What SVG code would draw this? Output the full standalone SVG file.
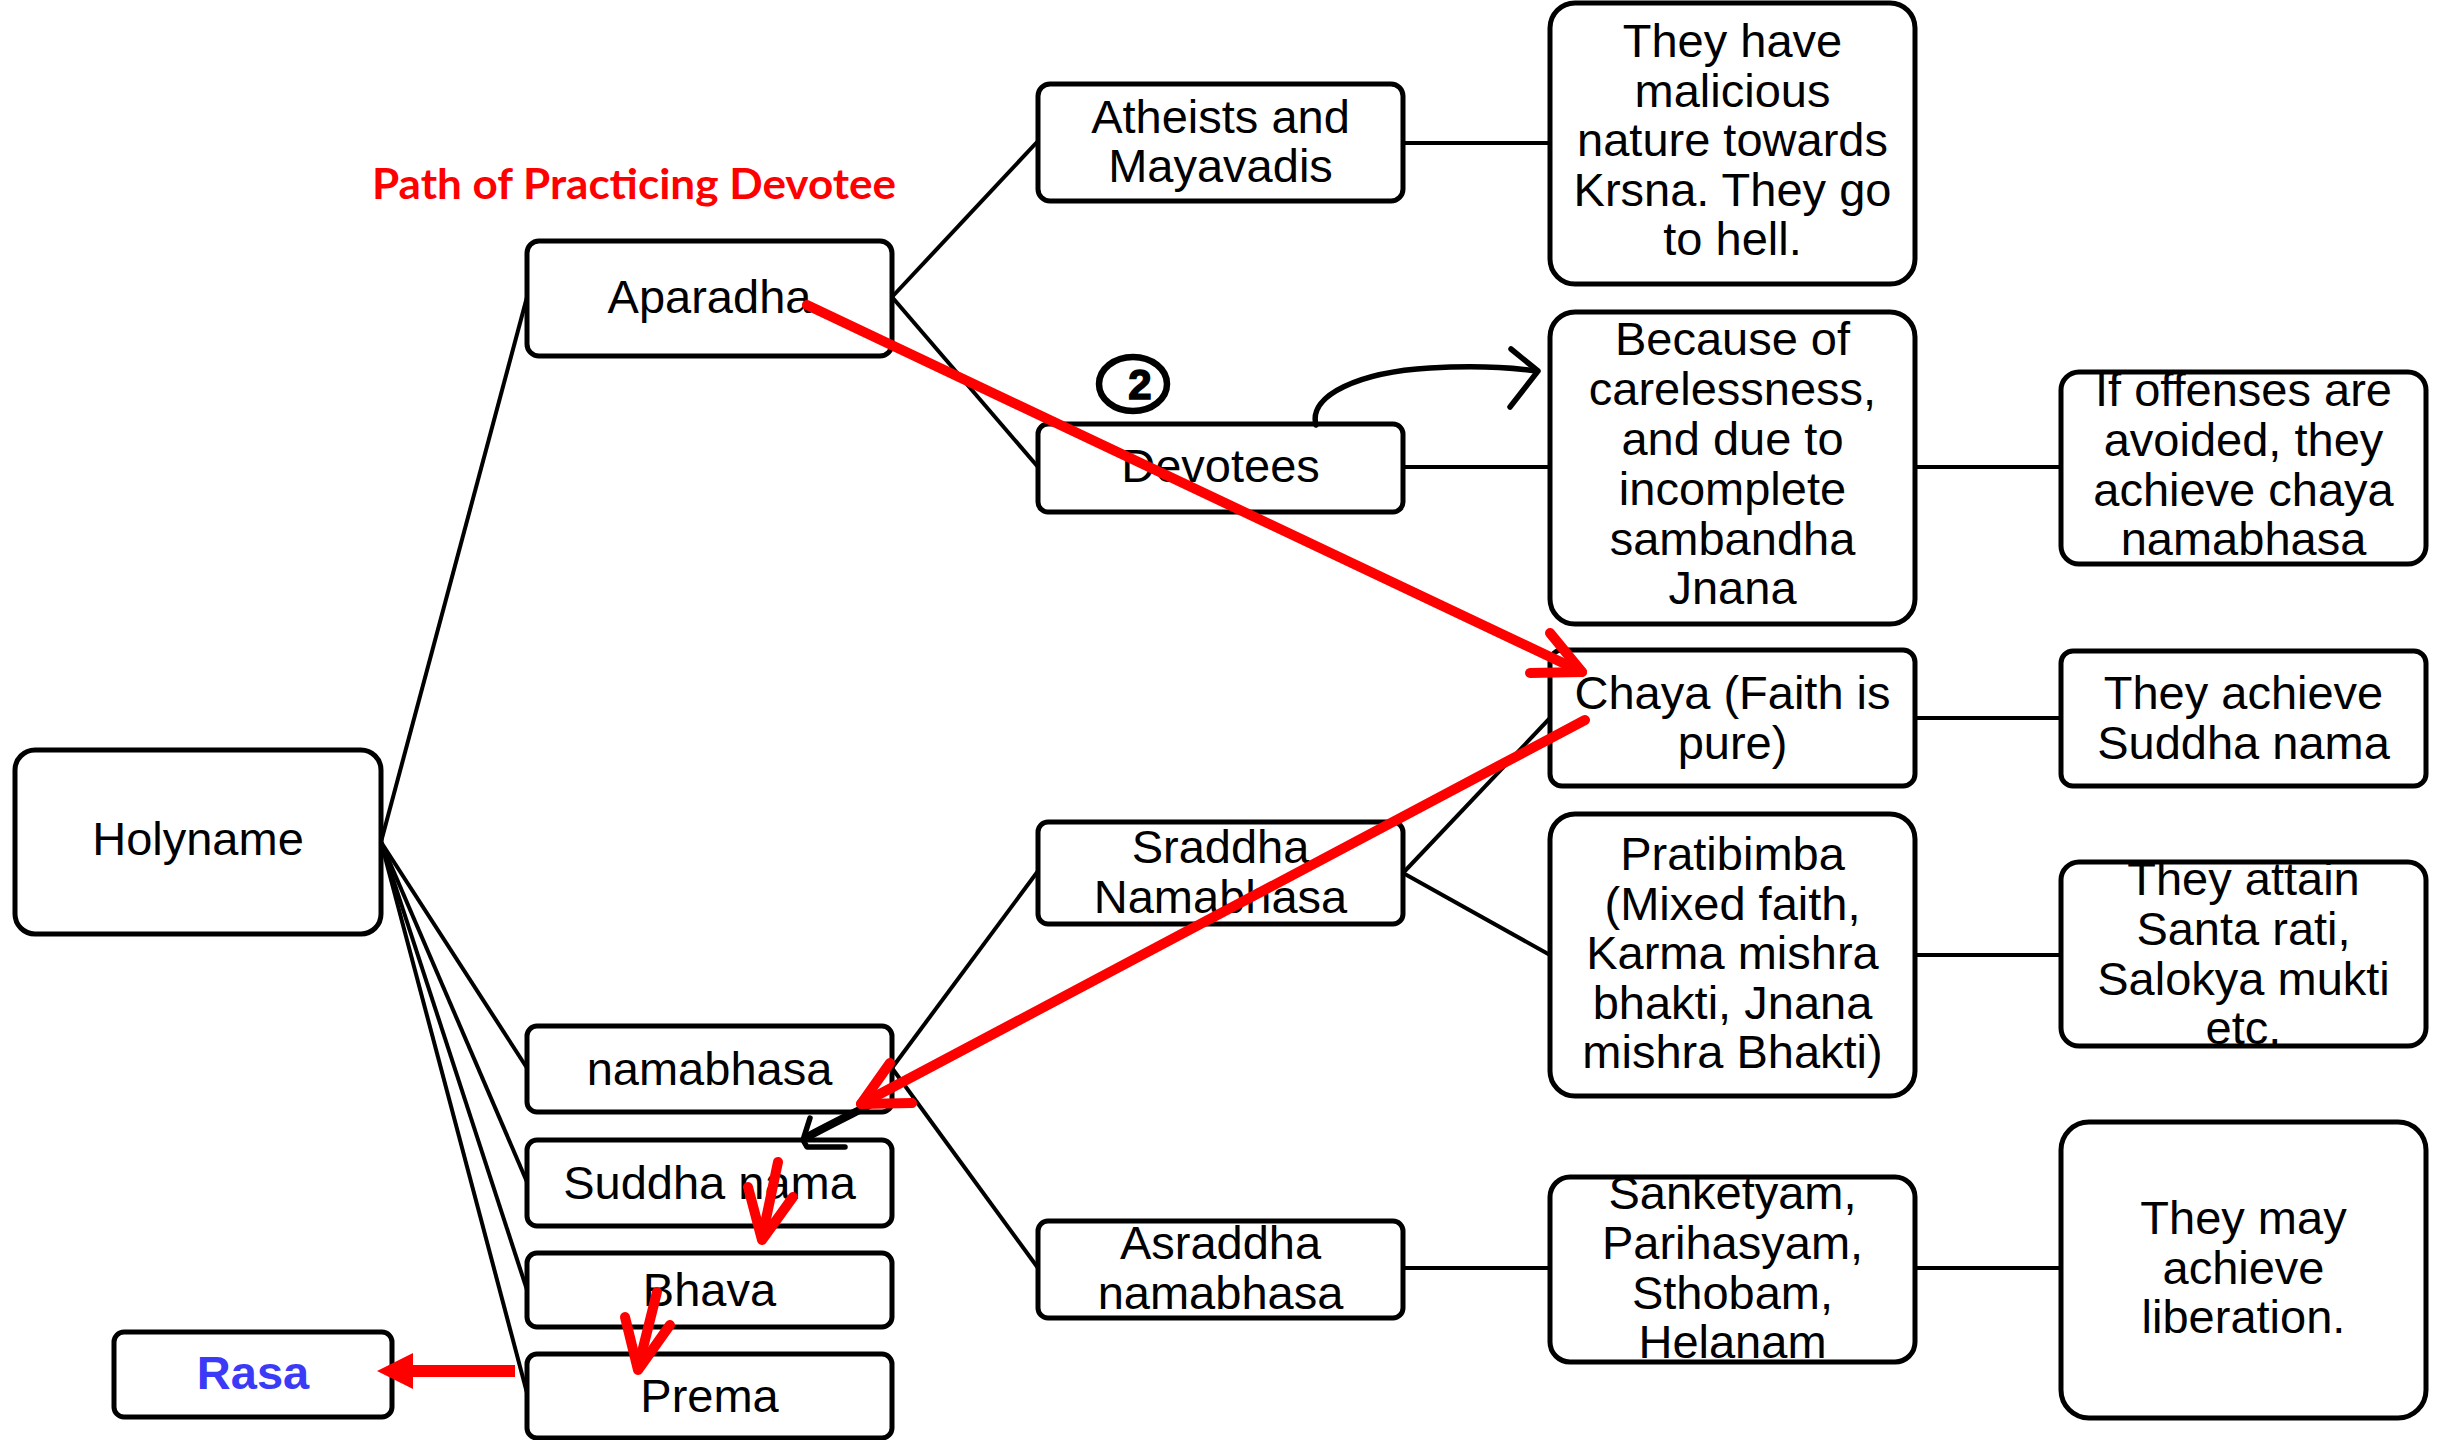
<svg xmlns="http://www.w3.org/2000/svg" width="2437" height="1440" viewBox="0 0 2437 1440">
  <style>
    .box { fill: #ffffff; stroke: #000000; stroke-width: 5; }
    .link { stroke: #000000; stroke-width: 4; fill: none; }
    .t { font-family: "Liberation Sans", Arial, sans-serif; font-size: 47px; fill: #000000; text-anchor: middle; }
    .title { font-family: Lato, "Open Sans", sans-serif; font-weight: bold; font-size: 42px; fill: #ff0000; }
    .rasa { font-family: "Liberation Sans", Arial, sans-serif; font-weight: bold; font-size: 47px; fill: #3b3bf7; text-anchor: middle; }
    .red { stroke: #ff0000; stroke-width: 10; fill: none; stroke-linecap: round; stroke-linejoin: round; }
    .ink { stroke: #000000; stroke-width: 5.5; fill: none; stroke-linecap: round; stroke-linejoin: round; }
  </style>
  <rect width="2437" height="1440" fill="#ffffff"/>

  <!-- tree connectors -->
  <g id="connectors">
    <line class="link" x1="381" y1="842" x2="527" y2="297"/>
    <line class="link" x1="381" y1="842" x2="527" y2="1068"/>
    <line class="link" x1="381" y1="842" x2="527" y2="1182"/>
    <line class="link" x1="381" y1="842" x2="527" y2="1290"/>
    <line class="link" x1="381" y1="842" x2="527" y2="1393"/>
    <line class="link" x1="892" y1="297" x2="1038" y2="141"/>
    <line class="link" x1="892" y1="297" x2="1038" y2="467"/>
    <line class="link" x1="1403" y1="143" x2="1550" y2="143"/>
    <line class="link" x1="1403" y1="467" x2="1550" y2="467"/>
    <line class="link" x1="1915" y1="467" x2="2061" y2="467"/>
    <line class="link" x1="892" y1="1068" x2="1038" y2="871"/>
    <line class="link" x1="892" y1="1068" x2="1038" y2="1268"/>
    <line class="link" x1="1403" y1="873" x2="1550" y2="718"/>
    <line class="link" x1="1403" y1="873" x2="1550" y2="955"/>
    <line class="link" x1="1915" y1="718" x2="2061" y2="718"/>
    <line class="link" x1="1915" y1="955" x2="2061" y2="955"/>
    <line class="link" x1="1403" y1="1268" x2="1550" y2="1268"/>
    <line class="link" x1="1915" y1="1268" x2="2061" y2="1268"/>
  </g>

  <text class="title" x="372" y="199" textLength="524" lengthAdjust="spacingAndGlyphs">Path of Practicing Devotee</text>

  <g id="holyname">
    <rect class="box" x="15" y="750" width="366" height="184" rx="20"/>
    <text class="t" x="198" y="855">Holyname</text>
  </g>
  <g id="aparadha">
    <rect class="box" x="527" y="241" width="365" height="115" rx="12"/>
    <text class="t" x="709.5" y="313">Aparadha</text>
  </g>
  <g id="namabhasa">
    <rect class="box" x="527" y="1026" width="365" height="86" rx="10"/>
    <text class="t" x="709.5" y="1085">namabhasa</text>
  </g>
  <g id="suddha-nama">
    <rect class="box" x="527" y="1140" width="365" height="86" rx="10"/>
    <text class="t" x="709.5" y="1199">Suddha nama</text>
  </g>
  <g id="bhava">
    <rect class="box" x="527" y="1253" width="365" height="74" rx="10"/>
    <text class="t" x="709.5" y="1306">Bhava</text>
  </g>
  <g id="prema">
    <rect class="box" x="527" y="1354" width="365" height="84" rx="10"/>
    <text class="t" x="709.5" y="1412">Prema</text>
  </g>
  <g id="rasa">
    <rect class="box" x="114" y="1332" width="278" height="85" rx="10"/>
    <text class="rasa" x="253" y="1389">Rasa</text>
  </g>

  <g id="atheists">
    <rect class="box" x="1038" y="84" width="365" height="117" rx="12"/>
    <text class="t" x="1220.5" y="133">Atheists and</text>
    <text class="t" x="1220.5" y="182">Mayavadis</text>
  </g>
  <g id="devotees">
    <rect class="box" x="1038" y="424" width="365" height="88" rx="10"/>
    <text class="t" x="1220.5" y="482">Devotees</text>
  </g>
  <g id="sraddha-namabhasa">
    <rect class="box" x="1038" y="822" width="365" height="102" rx="10"/>
    <text class="t" x="1220.5" y="863">Sraddha</text>
    <text class="t" x="1220.5" y="913">Namabhasa</text>
  </g>
  <g id="asraddha-namabhasa">
    <rect class="box" x="1038" y="1221" width="365" height="97" rx="10"/>
    <text class="t" x="1220.5" y="1259">Asraddha</text>
    <text class="t" x="1220.5" y="1309">namabhasa</text>
  </g>

  <g id="malicious">
    <rect class="box" x="1550" y="3" width="365" height="281" rx="25"/>
    <text class="t" x="1732.5" y="57">They have</text>
    <text class="t" x="1732.5" y="107">malicious</text>
    <text class="t" x="1732.5" y="156">nature towards</text>
    <text class="t" x="1732.5" y="206">Krsna. They go</text>
    <text class="t" x="1732.5" y="255">to hell.</text>
  </g>
  <g id="carelessness">
    <rect class="box" x="1550" y="312" width="365" height="312" rx="25"/>
    <text class="t" x="1732.5" y="355">Because of</text>
    <text class="t" x="1732.5" y="405">carelessness,</text>
    <text class="t" x="1732.5" y="455">and due to</text>
    <text class="t" x="1732.5" y="505">incomplete</text>
    <text class="t" x="1732.5" y="555">sambandha</text>
    <text class="t" x="1732.5" y="604">Jnana</text>
  </g>
  <g id="chaya">
    <rect class="box" x="1550" y="650" width="365" height="136" rx="12"/>
    <text class="t" x="1732.5" y="709">Chaya (Faith is</text>
    <text class="t" x="1732.5" y="759">pure)</text>
  </g>
  <g id="pratibimba">
    <rect class="box" x="1550" y="814" width="365" height="282" rx="25"/>
    <text class="t" x="1732.5" y="870">Pratibimba</text>
    <text class="t" x="1732.5" y="920">(Mixed faith,</text>
    <text class="t" x="1732.5" y="969">Karma mishra</text>
    <text class="t" x="1732.5" y="1019">bhakti, Jnana</text>
    <text class="t" x="1732.5" y="1068">mishra Bhakti)</text>
  </g>
  <g id="offenses-list">
    <rect class="box" x="1550" y="1177" width="365" height="185" rx="20"/>
    <text class="t" x="1732.5" y="1209">Sanketyam,</text>
    <text class="t" x="1732.5" y="1259">Parihasyam,</text>
    <text class="t" x="1732.5" y="1309">Sthobam,</text>
    <text class="t" x="1732.5" y="1358">Helanam</text>
  </g>

  <g id="avoided">
    <rect class="box" x="2061" y="372" width="365" height="192" rx="18"/>
    <text class="t" x="2243.5" y="406">If offenses are</text>
    <text class="t" x="2243.5" y="456">avoided, they</text>
    <text class="t" x="2243.5" y="506">achieve chaya</text>
    <text class="t" x="2243.5" y="555">namabhasa</text>
  </g>
  <g id="suddha-result">
    <rect class="box" x="2061" y="651" width="365" height="135" rx="12"/>
    <text class="t" x="2243.5" y="709">They achieve</text>
    <text class="t" x="2243.5" y="759">Suddha nama</text>
  </g>
  <g id="santa-rati">
    <rect class="box" x="2061" y="862" width="365" height="184" rx="18"/>
    <text class="t" x="2243.5" y="895">They attain</text>
    <text class="t" x="2243.5" y="945">Santa rati,</text>
    <text class="t" x="2243.5" y="995">Salokya mukti</text>
    <text class="t" x="2243.5" y="1044">etc.</text>
  </g>
  <g id="liberation">
    <rect class="box" x="2061" y="1122" width="365" height="296" rx="28"/>
    <text class="t" x="2243.5" y="1234">They may</text>
    <text class="t" x="2243.5" y="1284">achieve</text>
    <text class="t" x="2243.5" y="1333">liberation.</text>
  </g>

  <!-- hand-drawn marks -->
  <g id="annotations">
    <ellipse cx="1133" cy="384" rx="34" ry="27" fill="none" stroke="#000" stroke-width="6.5"/>
    <text x="1140" y="399" font-family="Liberation Sans, Arial, sans-serif" font-weight="bold" font-size="42" text-anchor="middle" stroke="#000" stroke-width="1.5">2</text>
    <path class="ink" d="M1316,425 C1308,395 1360,372 1430,368 C1480,365 1515,368 1537,371"/>
    <polyline class="ink" points="1511,349 1538,371 1510,407"/>

    <path d="M877,1101 C860,1110 835,1122 807,1137" stroke="#000" stroke-width="8" fill="none" stroke-linecap="round"/>
    <polyline class="ink" points="810,1118 803,1140 807,1147 845,1147"/>

    <line class="red" x1="807" y1="305" x2="1582" y2="672"/>
    <polyline class="red" points="1550,633 1582,672 1530,673"/>

    <line class="red" x1="1585" y1="720" x2="861" y2="1104"/>
    <polyline class="red" points="890,1063 861,1104 912,1103"/>

    <line class="red" x1="778" y1="1162" x2="762" y2="1238"/>
    <polyline class="red" points="748,1187 762,1240 793,1197"/>
    <line class="red" x1="657" y1="1292" x2="638" y2="1368"/>
    <polyline class="red" points="625,1317 638,1370 670,1325"/>

    <line x1="515" y1="1371" x2="410" y2="1371" stroke="#ff0000" stroke-width="12"/>
    <polygon points="377,1371 413,1353 413,1389" fill="#ff0000"/>
  </g>
</svg>
